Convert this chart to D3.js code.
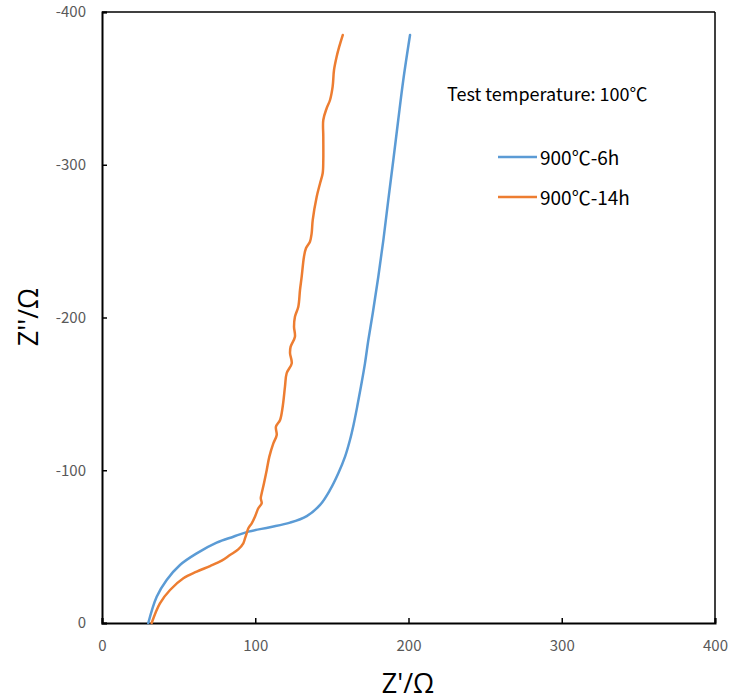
<!DOCTYPE html>
<html>
<head>
<meta charset="utf-8">
<script src="https://cdn.jsdelivr.net/npm/d3@7"></script>
<style>
  html, body { margin: 0; padding: 0; background: #fff; }
  svg { display: block; }
  text { font-family: "Open Sans", "Noto Sans", sans-serif; }
</style>
</head>
<body>
<svg id="chart" width="730" height="700"></svg>
<script>
// Nyquist plot: real part Z' vs imaginary part Z'' (ohms)
const seriesNames = ["900℃-6h", "900℃-14h"];
const seriesColors = ["#5B9BD5", "#ED7D31"];

const zReal6h = [30.2, 35.7, 42.2, 50.9, 61.8, 74.8, 85.7, 95.5, 109.6, 122.7, 133.6, 142.3, 148.8, 154.2, 158.6, 161.8, 164.2, 166.6, 169.0, 171.6, 173.8, 177.0, 180.3, 183.6, 186.8, 190.1, 193.3, 196.6, 201.0];
const zImag6h = [0, -17.2, -28.2, -38.0, -45.6, -52.6, -56.5, -59.8, -62.7, -65.7, -70.0, -77.3, -87.1, -98.0, -108.9, -119.8, -130.0, -142.0, -155.0, -170.0, -185.3, -204.9, -226.7, -250.7, -276.9, -303.1, -329.3, -355.5, -384.9];

const zReal14h = [32.4, 37.8, 44.4, 53.1, 61.8, 70.5, 78.1, 83.5, 88.9, 92.2, 93.3, 94.4, 95.5, 97.7, 99.8, 102.0, 104.2, 103.6, 104.2, 105.7, 107.5, 109.2, 111.8, 114.0, 113.5, 116.2, 117.9, 119.4, 120.5, 123.8, 122.7, 123.1, 125.9, 125.3, 125.9, 128.1, 129.2, 130.3, 131.8, 133.1, 135.7, 136.8, 137.5, 140.1, 142.3, 144.0, 144.4, 144.4, 144.4, 146.6, 148.8, 150.5, 151.4, 153.1, 154.8, 157.1];
const zImag14h = [0, -12.9, -21.6, -29.3, -33.6, -37.3, -40.8, -44.5, -48.2, -52.2, -55.4, -58.7, -62.0, -65.3, -69.6, -75.1, -78.4, -81.6, -84.9, -91.5, -100.2, -108.9, -117.6, -123.1, -128.5, -132.9, -141.6, -154.7, -163.5, -170.0, -176.6, -180.9, -187.4, -194.0, -200.5, -207.1, -218.0, -226.7, -239.8, -245.3, -249.6, -255.1, -263.8, -279.1, -287.9, -294.4, -303.1, -318.4, -329.3, -337.0, -342.4, -351.1, -362.0, -370.7, -377.3, -384.9];

const xTicks = [0, 100, 200, 300, 400];
const yTicks = [0, -100, -200, -300, -400];
const noteText = "Test temperature: 100℃";

const svg = d3.select("#chart");
const margin = { left: 102, top: 12, right: 15, bottom: 77 };
const W = 730 - margin.left - margin.right;
const H = 700 - margin.top - margin.bottom;

const x = d3.scaleLinear().domain([0, 400]).range([0, W]);
const y = d3.scaleLinear().domain([0, -400]).range([H, 0]);

const g = svg.append("g").attr("transform", `translate(${margin.left},${margin.top})`);

// frame on top and right
g.append("line").attr("x1", 0).attr("x2", W).attr("y1", 0).attr("y2", 0)
  .attr("stroke", "#000").attr("stroke-width", 1.5);
g.append("line").attr("x1", W).attr("x2", W).attr("y1", 0).attr("y2", H)
  .attr("stroke", "#000").attr("stroke-width", 1.5);

const xAxis = g.append("g").attr("transform", `translate(0,${H})`)
  .call(d3.axisBottom(x).tickValues(xTicks).tickSize(-5).tickPadding(17).tickFormat(d => String(d)));
const yAxis = g.append("g")
  .call(d3.axisLeft(y).tickValues(yTicks).tickSize(-5).tickPadding(16).tickFormat(d => String(d)));

[xAxis, yAxis].forEach(a => {
  a.select(".domain").attr("stroke", "#000").attr("stroke-width", 2);
  a.selectAll(".tick line").attr("stroke", "#000").attr("stroke-width", 1.5);
  a.selectAll(".tick text").attr("fill", "#595959").style("font-size", "15px")
    .style("font-family", "'Noto Sans CJK SC', 'Open Sans', sans-serif");
});

const line = d3.line().x(d => x(d[0])).y(d => y(d[1])).curve(d3.curveCatmullRom.alpha(0.5));

const series = [
  d3.zip(zReal6h, zImag6h),
  d3.zip(zReal14h, zImag14h)
];

series.forEach((pts, i) => {
  g.append("path").datum(pts)
    .attr("fill", "none")
    .attr("stroke", seriesColors[i])
    .attr("stroke-width", 2.5)
    .attr("stroke-linejoin", "round")
    .attr("stroke-linecap", "round")
    .attr("d", line);
});

const labelFont = "'Noto Sans CJK SC', 'Open Sans', sans-serif";

// annotation
svg.append("text").attr("x", 447).attr("y", 101)
  .style("font-family", labelFont)
  .style("font-size", "18px").attr("fill", "#000").text(noteText);

// legend
const legend = svg.append("g");
seriesNames.forEach((name, i) => {
  const cy = 157 + i * 40;
  legend.append("line").attr("x1", 498).attr("x2", 537).attr("y1", cy).attr("y2", cy)
    .attr("stroke", seriesColors[i]).attr("stroke-width", 2.5);
  legend.append("text").attr("x", 540).attr("y", cy + 8)
    .style("font-family", labelFont)
    .style("font-size", "19px").attr("fill", "#000").text(name);
});

// axis titles
svg.append("text").attr("x", 408).attr("y", 693).attr("text-anchor", "middle")
  .style("font-size", "27px").attr("fill", "#000").text("Z'/Ω");
svg.append("text").attr("transform", "translate(38,317) rotate(-90)").attr("text-anchor", "middle")
  .style("font-size", "27px").attr("fill", "#000").text("Z''/Ω");
</script>
</body>
</html>
